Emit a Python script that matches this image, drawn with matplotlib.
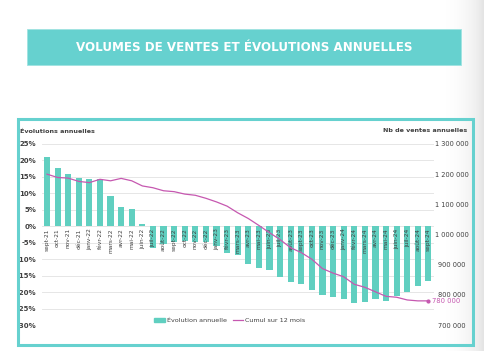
import matplotlib.pyplot as plt
import numpy as np
from matplotlib.patches import Rectangle, Patch
from matplotlib.lines import Line2D

# Months, Sept 2021 to Sept 2024
months = ["sept-21", "oct-21", "nov-21", "déc-21", "janv-22", "févr-22", "mars-22",
          "avr-22", "mai-22", "juin-22", "juil-22", "août-22", "sept-22", "oct-22",
          "nov-22", "déc-22", "janv-23", "févr-23", "mars-23", "avr-23", "mai-23",
          "juin-23", "juil-23", "août-23", "sept-23", "oct-23", "nov-23", "déc-23",
          "janv-24", "févr-24", "mars-24", "avr-24", "mai-24", "juin-24", "juil-24",
          "août-24", "sept-24"]

# Annual change (%)
evolution = [21.0, 17.6, 15.8, 14.8, 14.3, 14.3, 9.3, 6.0, 5.2, 0.8,
             -6.5, -5.5, -4.9, -4.4, -4.9, -4.9, -6.0, -8.0, -8.8, -11.5,
             -12.8, -13.3, -15.5, -16.9, -17.6, -19.4, -20.9, -21.6, -22.1, -23.3,
             -22.9, -22.1, -22.6, -21.1, -19.9, -18.1, -16.6]

# Rolling 12-month sales
cumul = [1200000, 1189000, 1187000, 1176000, 1172000, 1183000, 1178000, 1186000,
         1178000, 1161000, 1155000, 1145000, 1142000, 1134000, 1130000, 1120000,
         1108000, 1094000, 1072000, 1053000, 1030000, 1006000, 983000, 956000,
         940000, 918000, 887000, 872000, 860000, 835000, 825000, 810000, 795000,
         792000, 783000, 780000, 780000]

left_ticks = [25, 20, 15, 10, 5, 0, -5, -10, -15, -20, -25, -30]
right_ticks = [1300000, 1200000, 1100000, 1000000, 900000, 800000, 700000]

teal = "#60CFC0"
banner = "#66D1CF"
magenta = "#C658B0"
txt = "#404040"

W, H = 485, 351
fig = plt.figure(figsize=(W / 100, H / 100), dpi=100)
fig.patch.set_facecolor("white")

# grey shading on the right edge
bg = fig.add_axes([440 / W, 0, 45 / W, 1], zorder=-5)
grad = np.linspace(0, 1, 100) ** 2
bg.imshow(grad[np.newaxis, :], aspect="auto", cmap="Greys", vmin=0, vmax=5,
          extent=[0, 1, 0, 1])
bg.axis("off")

# title banner
fig.patches.append(Rectangle((27 / W, 1 - 65 / H), 434 / W, 36 / H,
                             transform=fig.transFigure, facecolor=banner,
                             edgecolor="#9fe3e1", lw=0.6, zorder=1))
fig.text(244 / W, 1 - 47.5 / H, "VOLUMES DE VENTES ET ÉVOLUTIONS ANNUELLES",
         color="white", fontsize=8.6, fontweight="heavy", ha="center", va="center",
         family="DejaVu Sans")

# chart frame
fig.patches.append(Rectangle((18 / W, 1 - 345 / H), 455 / W, 226 / H,
                             transform=fig.transFigure, facecolor="none",
                             edgecolor=banner, lw=2.2, zorder=0))

ax = fig.add_axes([41.7 / W, 1 - 325 / H, 392 / W, 181 / H])
ax.patch.set_alpha(0)
x = np.arange(len(months))
ax.bar(x, evolution, width=0.58, color=teal, zorder=2)
ax.set_xlim(-0.5, len(months) - 0.5)
ax.set_ylim(-30, 25)
ax.set_yticks(left_ticks)
ax.set_yticklabels([f"{t}%" for t in left_ticks], fontsize=5, color=txt,
                   fontweight="bold")
ax.tick_params(axis="y", length=0, pad=4)
ax.tick_params(axis="x", bottom=False, labelbottom=False)
ax.grid(axis="y", color="#e6e6e6", lw=0.7, zorder=0)
for s in ax.spines.values():
    s.set_visible(False)

ax2 = ax.twinx()
ax2.plot(x, cumul, color=magenta, lw=0.9, zorder=3)
ax2.plot(x[-1], cumul[-1], marker="o", ms=2, color=magenta)
ax2.annotate(f"{cumul[-1] // 1000} 000", (x[-1], cumul[-1]), xytext=(2.5, 0),
             textcoords="offset points", color=magenta, fontsize=4.9, va="center")
ax2.set_ylim(700000, 1300000)
ax2.set_yticks(right_ticks)
ax2.set_yticklabels([f"{t:,}".replace(",", " ") for t in right_ticks], fontsize=4.8,
                    color=txt, ha="center")
ax2.tick_params(axis="y", length=0, pad=13)

# month labels on the zero line, drawn over the bars
ax2.xaxis.set_visible(True)
ax2.spines["bottom"].set_position(("axes", 30 / 55))
ax2.set_xticks(x)
ax2.set_xticklabels(months, rotation=90, fontsize=4.2, color=txt, va="top")
ax2.tick_params(axis="x", length=0, pad=1.5)
for s in ax2.spines.values():
    s.set_visible(False)

fig.text(20 / W, 1 - 131 / H, "Évolutions annuelles", fontsize=4.6, color=txt,
         fontweight="bold", va="center")
fig.text(467 / W, 1 - 131 / H, "Nb de ventes annuelles", fontsize=4.6, color=txt,
         fontweight="bold", va="center", ha="right")

handles = [Patch(color=teal, label="Évolution annuelle"),
           Line2D([], [], color=magenta, lw=0.9, label="Cumul sur 12 mois")]
ax.legend(handles=handles, loc="center", bbox_to_anchor=(0.48, 0.025), ncol=2,
          frameon=False, fontsize=4.6, handlelength=1.6, handleheight=0.6,
          handletextpad=0.3, columnspacing=1.0, labelcolor=txt)

fig.savefig("out.png", dpi=100)
